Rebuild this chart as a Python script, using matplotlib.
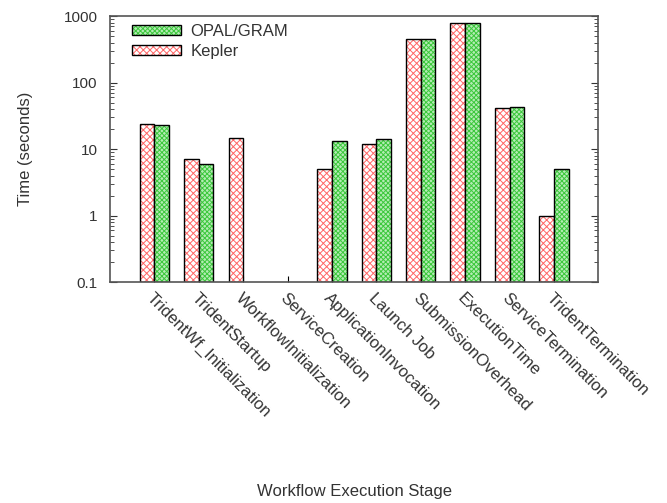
import numpy as np
import matplotlib
matplotlib.use("Agg")
import matplotlib.pyplot as plt
from matplotlib.patches import Patch
from matplotlib.legend_handler import HandlerTuple
from matplotlib.ticker import LogLocator, NullFormatter, FixedLocator

plt.rcParams['font.family'] = ['Liberation Sans', 'DejaVu Sans']
plt.rcParams['hatch.linewidth'] = 0.7

stages = ["TridentWf_Initialization", "TridentStartup", "WorkflowInitialization",
          "ServiceCreation", "ApplicationInvocation", "Launch Job",
          "SubmissionOverhead", "ExecutionTime", "ServiceTermination",
          "TridentTermination"]
kepler = [24, 7.0, 14.5, np.nan, 5.0, 12, 460, 800, 42, 1.0]
opal = [23, 6.0, np.nan, np.nan, 13.3, 14, 460, 800, 43, 5.0]

fig = plt.figure(figsize=(6.67, 5.03), dpi=100)
ax = fig.add_axes([0.165, 0.439, 0.732, 0.529])

x = np.arange(len(stages))
w = 0.33
base = 0.1
txtc = '#333333'
red_h = '#ff6666'
green_f = '#b4ecb4'
green_h = '#3cc83c'
red_hatch = 'xxxxx'
green_hatch = 'xxxxxxx'

kh = np.array(kepler, dtype=float)
oh = np.array(opal, dtype=float)

# Kepler: white with red crosshatch
ax.bar(x - w/2, kh - base, w, bottom=base, facecolor='white', edgecolor=red_h,
       hatch=red_hatch, linewidth=0)
ax.bar(x - w/2, kh - base, w, bottom=base, facecolor='none', edgecolor='black',
       linewidth=1.0)
# OPAL: light green with green fine mesh
ax.bar(x + w/2, oh - base, w, bottom=base, facecolor=green_f, edgecolor=green_h,
       hatch=green_hatch, linewidth=0)
ax.bar(x + w/2, oh - base, w, bottom=base, facecolor='none', edgecolor='black',
       linewidth=1.0)

ax.set_yscale('log')
ax.set_ylim(0.1, 1000)
ax.set_xlim(-1, len(stages))
ax.yaxis.set_major_locator(FixedLocator([0.1, 1, 10, 100, 1000]))
ax.set_yticklabels(['0.1', '1', '10', '100', '1000'])
ax.yaxis.set_minor_locator(LogLocator(base=10, subs=np.arange(2, 10)))
ax.yaxis.set_minor_formatter(NullFormatter())
ax.tick_params(axis='y', which='both', direction='in', right=True, labelsize=11,
               colors=txtc, labelcolor=txtc, pad=9)
ax.tick_params(axis='y', which='major', length=5)
ax.tick_params(axis='y', which='minor', length=3)
ax.set_xticks(x)
ax.set_xticklabels(stages, rotation=-45, ha='left', va='top', rotation_mode='anchor',
                   fontsize=12, color=txtc)
ax.tick_params(axis='x', direction='in', length=4, pad=6)
for s in ax.spines.values():
    s.set_color('#555555')
    s.set_linewidth(1.2)

ax.set_ylabel('Time (seconds)', fontsize=12, color=txtc, labelpad=22)
fig.text(0.531, 0.008, 'Workflow Execution Stage', ha='center', va='bottom',
         fontsize=12, color=txtc)

h_opal = (Patch(facecolor=green_f, edgecolor=green_h, hatch=green_hatch, linewidth=0),
          Patch(facecolor='none', edgecolor='black', linewidth=1.0))
h_kep = (Patch(facecolor='white', edgecolor=red_h, hatch=red_hatch, linewidth=0),
         Patch(facecolor='none', edgecolor='black', linewidth=1.0))
leg = ax.legend([h_opal, h_kep], ['OPAL/GRAM', 'Kepler'],
                handler_map={tuple: HandlerTuple(ndivide=1, pad=0)},
                loc='upper left', bbox_to_anchor=(0.031, 0.995), borderaxespad=0,
                frameon=False, fontsize=12, handlelength=2.95,
                handleheight=0.55, labelspacing=0.3, handletextpad=0.55)
for t in leg.get_texts():
    t.set_color(txtc)

fig.savefig('out.png', dpi=100)
